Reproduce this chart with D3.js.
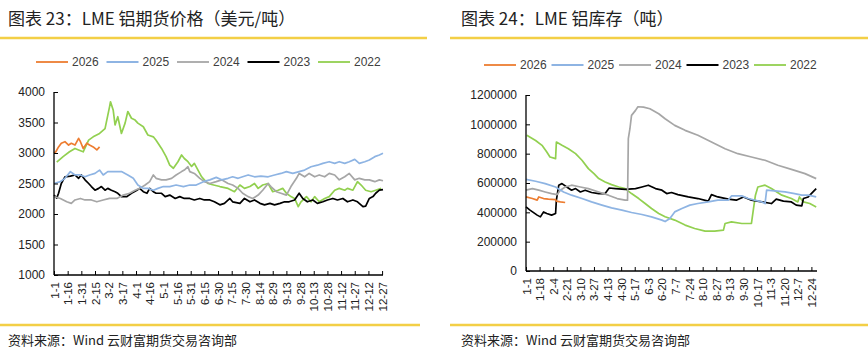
<!DOCTYPE html>
<html lang="zh">
<head>
    <meta charset="UTF-8">
    <title>LME 铝</title>
    <script src="https://d3js.org/d3.v7.min.js"></script>
    <style>
        body { margin: 0; background: #fff; }
        svg { font-family: "Liberation Sans", Arial, sans-serif; }
        .cjk { font-family: "Noto Sans CJK SC", "Liberation Sans", sans-serif; }
    </style>
</head>
<body>
    <svg width="868" height="350"></svg>

    <script>
        // legend / series names
        const years = ["2026", "2025", "2024", "2023", "2022"];
        const colors = {"2026": "#ED7D31", "2025": "#8EB4E3", "2024": "#A6A6A6", "2023": "#000000", "2022": "#92D050"};

        // ---- LME 铝期货价格 : [day of year, USD/t]
        const price2026 = [[0,3000],[2,3020],[5,3100],[8,3160],[12,3185],[16,3130],[19,3160],[23,3130],[27,3240],[29,3185],[32,3075],[36,3160],[39,3130],[43,3100],[47,3050],[50,3100]];
        const price2025 = [[0,2500],[7,2530],[12,2585],[18,2695],[23,2640],[29,2640],[34,2610],[39,2640],[45,2665],[50,2720],[54,2640],[59,2695],[67,2695],[74,2695],[81,2640],[87,2585],[92,2475],[98,2420],[103,2420],[109,2390],[114,2420],[120,2450],[127,2450],[134,2475],[142,2450],[149,2475],[156,2475],[164,2530],[171,2560],[178,2600],[184,2560],[191,2585],[196,2610],[202,2585],[207,2610],[213,2640],[220,2610],[227,2620],[235,2610],[242,2640],[249,2665],[255,2695],[262,2665],[269,2695],[275,2720],[282,2775],[289,2800],[295,2830],[302,2857],[308,2830],[313,2857],[319,2830],[324,2857],[330,2895],[335,2830],[341,2857],[346,2885],[352,2940],[357,2967],[361,2995]];
        const price2024 = [[0,2285],[7,2255],[14,2200],[19,2175],[23,2230],[29,2255],[34,2230],[41,2230],[47,2200],[54,2230],[61,2255],[69,2255],[76,2310],[83,2340],[89,2390],[94,2420],[100,2475],[105,2530],[109,2640],[112,2585],[118,2560],[123,2560],[129,2585],[134,2640],[140,2695],[143,2720],[147,2775],[149,2695],[154,2665],[160,2585],[165,2530],[171,2500],[178,2530],[184,2560],[191,2500],[196,2475],[202,2420],[207,2340],[213,2285],[218,2255],[224,2310],[229,2390],[235,2500],[238,2450],[244,2365],[249,2340],[255,2310],[260,2450],[266,2585],[269,2665],[275,2610],[280,2665],[286,2610],[291,2640],[297,2610],[302,2665],[308,2640],[313,2560],[319,2610],[324,2665],[330,2560],[335,2585],[341,2560],[346,2560],[352,2530],[357,2560],[361,2545]];
        const price2023 = [[0,2310],[3,2260],[5,2340],[8,2500],[12,2610],[18,2620],[23,2640],[27,2585],[30,2640],[34,2560],[38,2500],[41,2450],[45,2390],[49,2420],[52,2450],[56,2390],[59,2420],[63,2390],[67,2365],[70,2340],[74,2285],[80,2285],[85,2340],[91,2390],[94,2420],[98,2365],[102,2340],[105,2420],[109,2365],[112,2340],[118,2340],[122,2285],[127,2310],[133,2255],[138,2285],[143,2255],[149,2255],[154,2230],[160,2255],[165,2230],[171,2230],[176,2200],[182,2150],[187,2175],[193,2255],[196,2200],[204,2175],[209,2255],[215,2200],[220,2230],[226,2175],[231,2150],[237,2175],[242,2150],[248,2175],[253,2200],[258,2200],[264,2230],[269,2340],[273,2255],[278,2200],[284,2230],[289,2175],[295,2200],[300,2230],[306,2255],[311,2230],[317,2255],[322,2200],[328,2230],[333,2200],[339,2120],[342,2130],[346,2255],[350,2285],[353,2340],[357,2390],[361,2400]];
        const price2022 = [[3,2850],[10,2940],[17,3020],[23,3075],[27,3050],[32,3020],[38,3210],[43,3265],[50,3320],[56,3400],[61,3760],[62,3840],[65,3700],[67,3460],[70,3595],[74,3320],[78,3490],[81,3680],[85,3570],[89,3540],[92,3490],[98,3430],[103,3295],[109,3265],[112,3210],[118,3075],[123,2940],[127,2800],[131,2750],[136,2857],[140,2967],[143,2910],[147,2857],[151,2780],[154,2830],[158,2720],[162,2610],[165,2560],[169,2500],[174,2480],[182,2450],[191,2420],[198,2365],[204,2475],[209,2420],[215,2450],[220,2500],[224,2420],[229,2475],[235,2500],[240,2365],[246,2390],[251,2420],[255,2340],[260,2285],[264,2255],[268,2120],[271,2200],[277,2285],[282,2200],[286,2285],[291,2200],[297,2255],[302,2285],[308,2390],[313,2420],[319,2390],[322,2420],[328,2390],[333,2530],[337,2475],[342,2390],[348,2365],[353,2390],[359,2420]];
        const priceTickDays = [0,15,30,45,60,75,90,105,120,135,150,165,180,195,210,225,240,255,270,285,300,315,330,345,360];
        const priceTickLabels = ["1-1","1-16","1-31","2-15","3-2","3-17","4-1","4-16","5-1","5-16","5-31","6-15","6-30","7-15","7-30","8-14","8-29","9-13","9-28","10-13","10-28","11-12","11-27","12-12","12-27"];

        // ---- LME 铝库存 : [day of year, tonnes]
        const stock2026 = [[0,505000],[8,494000],[14,483000],[16,505000],[22,494000],[28,490000],[37,487000],[38,476000],[43,471000],[49,467000]];
        const stock2025 = [[0,625000],[12,612000],[24,596000],[37,573000],[47,539000],[57,517000],[70,494000],[82,471000],[95,449000],[107,430000],[120,415000],[132,399000],[145,385000],[157,369000],[170,347000],[174,337000],[180,358000],[186,403000],[195,426000],[205,449000],[215,460000],[228,471000],[240,483000],[253,483000],[257,512000],[270,512000],[278,494000],[286,483000],[295,471000],[299,460000],[301,551000],[311,546000],[324,539000],[336,528000],[345,517000],[353,517000],[363,505000]];
        const stock2024 = [[0,551000],[8,562000],[16,551000],[24,539000],[32,528000],[39,521000],[43,551000],[49,573000],[57,585000],[68,573000],[78,562000],[91,539000],[103,517000],[114,494000],[124,483000],[127,483000],[128,902000],[130,970000],[132,1061000],[137,1095000],[140,1120000],[147,1117000],[155,1106000],[166,1072000],[174,1038000],[186,993000],[199,959000],[215,925000],[232,879000],[249,834000],[265,800000],[282,777000],[299,755000],[315,721000],[332,693000],[349,664000],[363,630000]];
        const stock2023 = [[0,437000],[5,415000],[14,381000],[18,369000],[22,403000],[26,392000],[32,381000],[37,392000],[38,483000],[41,585000],[45,596000],[51,573000],[57,551000],[62,562000],[68,539000],[74,551000],[82,535000],[91,528000],[99,528000],[104,566000],[112,562000],[124,557000],[137,562000],[145,573000],[153,585000],[162,562000],[170,551000],[176,528000],[182,535000],[190,521000],[203,505000],[215,494000],[228,476000],[232,521000],[240,505000],[253,490000],[263,483000],[272,505000],[282,483000],[295,471000],[307,460000],[313,490000],[322,476000],[332,471000],[338,449000],[345,444000],[347,494000],[353,505000],[359,539000],[363,562000]];
        const stock2022 = [[1,925000],[12,890000],[20,857000],[26,811000],[30,777000],[37,766000],[38,879000],[45,857000],[53,834000],[62,800000],[70,755000],[78,698000],[85,664000],[91,630000],[99,607000],[107,589000],[116,573000],[124,562000],[132,528000],[141,494000],[149,460000],[157,426000],[166,392000],[174,370000],[186,347000],[199,313000],[211,290000],[224,272000],[236,272000],[247,279000],[249,324000],[257,335000],[270,324000],[282,324000],[284,403000],[287,517000],[290,573000],[299,585000],[307,562000],[320,517000],[332,494000],[340,471000],[342,505000],[347,471000],[355,460000],[363,437000]];
        const stockTickDays = [0,17,34,51,68,85,102,119,136,153,170,187,204,221,238,255,272,289,306,323,340,357];
        const stockTickLabels = ["1-1","1-18","2-4","2-21","3-10","3-27","4-13","4-30","5-17","6-3","6-20","7-7","7-24","8-10","8-27","9-13","9-30","10-17","11-3","11-20","12-7","12-24"];

        const svg = d3.select("svg");
        const yellow = "#F3CF46";

        function drawPanel(cfg) {
            const g = svg.append("g");

            // title + yellow rules
            g.append("text").attr("class", "cjk")
                .attr("x", cfg.titleX).attr("y", 25)
                .attr("font-size", "17px").attr("fill", "#222")
                .text(cfg.title);
            g.append("line").attr("x1", cfg.ruleX0).attr("x2", cfg.ruleX1)
                .attr("y1", 38).attr("y2", 38)
                .attr("stroke", yellow).attr("stroke-width", 2.5);
            g.append("line").attr("x1", cfg.ruleX0).attr("x2", cfg.ruleX1b)
                .attr("y1", 325).attr("y2", 325)
                .attr("stroke", yellow).attr("stroke-width", 2.5);
            g.append("text").attr("class", "cjk")
                .attr("x", cfg.titleX).attr("y", 345)
                .attr("font-size", "13px").attr("fill", "#222")
                .text("资料来源：Wind 云财富期货交易咨询部");

            const x = d3.scaleLinear().domain(cfg.xDomain).range(cfg.xRange);
            const y = d3.scaleLinear().domain(cfg.yDomain).range(cfg.yRange);

            // lines (2022 first so 2026 sits on top)
            const line = d3.line().x(d => x(d[0])).y(d => y(d[1]));
            years.slice().reverse().forEach(yr => {
                g.append("path").datum(cfg.series[yr])
                    .attr("fill", "none")
                    .attr("stroke", colors[yr])
                    .attr("stroke-width", 1.7)
                    .attr("stroke-linejoin", "round")
                    .attr("d", line);
            });

            // y axis
            const yAxis = d3.axisLeft(y).tickValues(cfg.yTicks).tickSize(-4).tickPadding(9)
                .tickFormat(d3.format("d"));
            const ya = g.append("g").attr("transform", `translate(${cfg.xRange[0]},0)`).call(yAxis);
            ya.select(".domain").attr("stroke", "#000").attr("stroke-width", 1.3)
                .attr("d", `M0,${cfg.yRange[1]}V${cfg.yRange[0]}`);
            ya.selectAll(".tick line").attr("stroke", "#000");
            ya.selectAll("text").attr("font-size", "12px").attr("fill", "#222");

            // x axis
            const xAxis = d3.axisBottom(x).tickValues(cfg.tickDays).tickSize(-4)
                .tickFormat((d, i) => cfg.tickLabels[i]);
            const xa = g.append("g").attr("transform", `translate(0,${cfg.yRange[0]})`).call(xAxis);
            xa.select(".domain").attr("stroke", "#000").attr("stroke-width", 1.3)
                .attr("d", `M${cfg.xRange[0]},0H${cfg.xRange[1]}`);
            xa.selectAll(".tick line").attr("stroke", "#000");
            xa.selectAll("text")
                .attr("font-size", "11.5px").attr("fill", "#222")
                .attr("text-anchor", "end")
                .attr("transform", "rotate(-90)")
                .attr("x", -7).attr("y", 0).attr("dy", "0.35em");

            // legend
            const lg = g.append("g").attr("transform", `translate(${cfg.legendX},${cfg.legendY})`);
            years.forEach((yr, i) => {
                const item = lg.append("g").attr("transform", `translate(${i * cfg.legendStep},0)`);
                item.append("line").attr("x1", 0).attr("x2", 32)
                    .attr("stroke", colors[yr]).attr("stroke-width", 1.8);
                item.append("text").attr("x", 36).attr("dy", "0.35em")
                    .attr("font-size", "12px").attr("fill", "#404040").text(yr);
            });
        }

        drawPanel({
            title: "图表 23：LME 铝期货价格（美元/吨）",
            titleX: 8, ruleX0: 0, ruleX1: 427, ruleX1b: 420,
            xDomain: [0, 361], xRange: [54, 383],
            yDomain: [1000, 4000], yRange: [275, 92],
            yTicks: [1000, 1500, 2000, 2500, 3000, 3500, 4000],
            tickDays: priceTickDays, tickLabels: priceTickLabels,
            legendX: 36, legendY: 62, legendStep: 70.5,
            series: {"2026": price2026, "2025": price2025, "2024": price2024, "2023": price2023, "2022": price2022}
        });

        drawPanel({
            title: "图表 24：LME 铝库存（吨）",
            titleX: 461, ruleX0: 450, ruleX1: 868, ruleX1b: 868,
            xDomain: [0, 364], xRange: [526, 817],
            yDomain: [0, 1200000], yRange: [271, 95],
            yTicks: [0, 200000, 400000, 600000, 800000, 1000000, 1200000],
            tickDays: stockTickDays, tickLabels: stockTickLabels,
            legendX: 484, legendY: 65, legendStep: 67.5,
            series: {"2026": stock2026, "2025": stock2025, "2024": stock2024, "2023": stock2023, "2022": stock2022}
        });
    </script>
</body>
</html>
